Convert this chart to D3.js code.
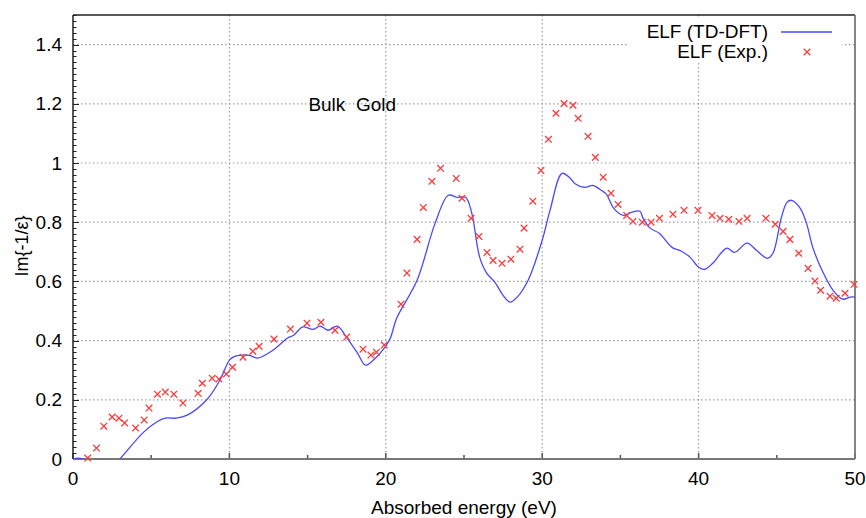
<!DOCTYPE html>
<html>
<head>
<meta charset="utf-8">
<script src="https://cdn.jsdelivr.net/npm/d3@7"></script>
<style>
  body { margin: 0; background: #fff; }
  text { font-family: "Liberation Sans", Arial, sans-serif; fill: #000; }
</style>
</head>
<body>
<div id="chart"></div>
<script>
// ELF (TD-DFT) curve
var tdX = [0, 0.6, 1.6, 3.0, 4.5, 5.35, 5.9, 6.6, 7.3, 8.55, 9.4, 10.0, 10.3, 10.8, 11.3, 11.8, 12.8, 13.7, 14.1, 14.7,
  15.35, 15.8, 16.3, 16.9, 17.5, 18.2, 18.7, 19.2, 19.95, 20.3, 20.7, 22.0, 23.15, 24.0, 24.55, 25.1, 25.5, 26.0,
  26.45, 26.98, 27.5, 27.95, 28.4, 29.1, 30.0, 30.5, 31.27, 31.8, 32.1, 32.7, 33.25, 33.8, 34.1, 34.6, 35.2, 35.7,
  36.25, 36.45, 36.9, 37.5, 38.3, 38.9, 39.45, 40.0, 40.4, 40.9, 41.8, 42.3, 43.1, 43.7, 44.4, 44.75, 45.3, 45.65,
  45.95, 46.5, 46.9, 47.3, 47.95, 48.6, 49.2, 49.7, 50];
var tdY = [0, 0, -0.08, 0, 0.09, 0.125, 0.138, 0.138, 0.148, 0.2, 0.267, 0.334, 0.346, 0.351, 0.35, 0.341, 0.368, 0.408, 0.418, 0.446,
  0.438, 0.449, 0.435, 0.449, 0.41, 0.357, 0.317, 0.334, 0.378, 0.41, 0.476, 0.604, 0.796, 0.891, 0.884, 0.884, 0.83, 0.682,
  0.628, 0.597, 0.553, 0.53, 0.547, 0.604, 0.739, 0.84, 0.965, 0.948, 0.93, 0.918, 0.924, 0.907, 0.895, 0.845, 0.823, 0.833,
  0.837, 0.813, 0.78, 0.762, 0.715, 0.702, 0.682, 0.648, 0.641, 0.661, 0.712, 0.698, 0.729, 0.705, 0.678, 0.695, 0.817, 0.867,
  0.874, 0.847, 0.796, 0.715, 0.631, 0.57, 0.54, 0.547, 0.547];

// ELF (Exp.) points
var expX = [0.94, 1.5, 1.97, 2.5, 2.94, 3.3, 4.0, 4.55, 4.86, 5.4, 5.9, 6.45, 7.03, 8.0, 8.27, 8.9, 9.33, 9.8, 10.2, 10.87,
  11.5, 11.9, 12.85, 13.9, 14.96, 15.85, 16.75, 17.5, 18.54, 19.05, 19.4, 19.9, 20.97, 21.35, 22.0, 22.4, 22.95, 23.5,
  24.5, 24.87, 25.45, 25.96, 26.47, 26.86, 27.43, 28.0, 28.58, 28.84, 29.4, 29.92, 30.4, 30.88, 31.4, 31.97, 32.3, 32.93,
  33.4, 33.9, 34.4, 34.85, 35.4, 35.8, 36.4, 36.96, 37.5, 38.36, 39.07, 39.96, 40.86, 41.37, 41.93, 42.58, 43.1, 44.3,
  44.9, 45.4, 45.84, 46.4, 47.0, 47.44, 47.8, 48.4, 48.8, 49.36, 49.94];
var expY = [0.003, 0.037, 0.111, 0.142, 0.138, 0.122, 0.105, 0.132, 0.172, 0.219, 0.226, 0.219, 0.189, 0.222, 0.256, 0.273, 0.27, 0.287, 0.31, 0.344,
  0.364, 0.381, 0.405, 0.439, 0.459, 0.462, 0.435, 0.412, 0.371, 0.351, 0.361, 0.385, 0.523, 0.628, 0.742, 0.85, 0.938, 0.982,
  0.948, 0.881, 0.813, 0.752, 0.698, 0.671, 0.661, 0.675, 0.709, 0.78, 0.871, 0.975, 1.08, 1.168, 1.201, 1.195, 1.151, 1.09,
  1.019, 0.952, 0.898, 0.86, 0.823, 0.803, 0.8, 0.8, 0.813, 0.827, 0.84, 0.84, 0.823, 0.813, 0.81, 0.803, 0.813, 0.813,
  0.793, 0.769, 0.742, 0.695, 0.644, 0.601, 0.57, 0.55, 0.543, 0.56, 0.59];

var xTicks = [0, 10, 20, 30, 40, 50];
var yTicks = [0, 0.2, 0.4, 0.6, 0.8, 1, 1.2, 1.4];
var seriesNames = ["ELF (TD-DFT)", "ELF (Exp.)"];

var width = 866, height = 518;
var margin = {top: 15, right: 11, bottom: 59, left: 73};
var w = width - margin.left - margin.right;
var h = height - margin.top - margin.bottom;
var fs = 19;

var blue = "#4848ff", red = "#ff3a3a";

var svg = d3.select('#chart').append('svg')
  .attr('width', width)
  .attr('height', height);

var x = d3.scaleLinear().domain([0, 50]).range([0, w]);
var y = d3.scaleLinear().domain([0, 1.5]).range([h, 0]);

var g = svg.append('g').attr('transform', 'translate(' + margin.left + ',' + margin.top + ')');

g.append('clipPath').attr('id', 'clip')
  .append('rect').attr('width', w).attr('height', h);

// grid
g.append('g').selectAll('line').data(yTicks.filter(function(d) { return d > 0; }))
  .join('line')
  .attr('x1', 0).attr('x2', w)
  .attr('y1', function(d) { return y(d); }).attr('y2', function(d) { return y(d); })
  .attr('stroke', '#a0a0a0').attr('stroke-width', 1.2).attr('stroke-dasharray', '1.5,2.5');
g.append('g').selectAll('line').data(xTicks.filter(function(d) { return d > 0 && d < 50; }))
  .join('line')
  .attr('y1', 0).attr('y2', h)
  .attr('x1', function(d) { return x(d); }).attr('x2', function(d) { return x(d); })
  .attr('stroke', '#a0a0a0').attr('stroke-width', 1.2).attr('stroke-dasharray', '1.5,2.5');

// minor / major ticks on the left axis (inward)
var yMinor = d3.range(0, 1.501, 0.02);
g.append('g').selectAll('line').data(yMinor)
  .join('line')
  .attr('x1', 0)
  .attr('x2', function(d) { return Math.abs(d * 5 - Math.round(d * 5)) < 1e-6 ? 6 : 3.5; })
  .attr('y1', function(d) { return Math.round(y(d)) + 0.5; })
  .attr('y2', function(d) { return Math.round(y(d)) + 0.5; })
  .attr('stroke', '#222').attr('stroke-width', 1);

// bottom axis ticks
var xMinor = d3.range(0, 50.1, 5);
g.append('g').selectAll('line').data(xMinor)
  .join('line')
  .attr('x1', function(d) { return x(d); }).attr('x2', function(d) { return x(d); })
  .attr('y1', h)
  .attr('y2', function(d) { return d % 10 === 0 ? h - 6 : h - 4; })
  .attr('stroke', '#555').attr('stroke-width', 1.5);

// frame
g.append('line').attr('x1', 0).attr('x2', w).attr('y1', 0).attr('y2', 0)
  .attr('stroke', '#222').attr('stroke-width', 1.5);
g.append('line').attr('x1', 0).attr('x2', 0).attr('y1', 0).attr('y2', h)
  .attr('stroke', '#222').attr('stroke-width', 1.5);
g.append('line').attr('x1', w).attr('x2', w).attr('y1', 0).attr('y2', h)
  .attr('stroke', '#777').attr('stroke-width', 1.8);
g.append('line').attr('x1', 0).attr('x2', w).attr('y1', h).attr('y2', h)
  .attr('stroke', '#777').attr('stroke-width', 2.2);

// tick labels
g.append('g').selectAll('text').data(yTicks)
  .join('text')
  .attr('x', -11).attr('y', function(d) { return y(d); })
  .attr('dy', '0.35em')
  .attr('text-anchor', 'end')
  .attr('font-size', fs)
  .text(function(d) { return d3.format('~g')(d); });
g.append('g').selectAll('text').data(xTicks)
  .join('text')
  .attr('x', function(d) { return x(d); }).attr('y', h + 26)
  .attr('text-anchor', 'middle')
  .attr('font-size', fs)
  .text(function(d) { return d; });

// axis titles
svg.append('text')
  .attr('transform', 'translate(28,246) rotate(-90)')
  .attr('text-anchor', 'middle')
  .attr('font-size', 18)
  .text('Im{-1/ε}');
svg.append('text')
  .attr('x', 464).attr('y', 514)
  .attr('text-anchor', 'middle')
  .attr('font-size', fs)
  .text('Absorbed energy (eV)');

// annotation
g.append('text')
  .attr('x', x(15.05)).attr('y', y(1.2) + 7)
  .attr('font-size', fs)
  .style('white-space', 'pre')
  .text('Bulk  Gold');

// TD-DFT line
var tdData = tdX.map(function(d, i) { return [d, tdY[i]]; });
var line = d3.line()
  .x(function(d) { return x(d[0]); })
  .y(function(d) { return y(d[1]); })
  .curve(d3.curveCatmullRom.alpha(0.5));
g.append('path')
  .datum(tdData)
  .attr('clip-path', 'url(#clip)')
  .attr('d', line)
  .attr('fill', 'none')
  .attr('stroke', blue)
  .attr('stroke-width', 1.3);

// experimental crosses
var expData = expX.map(function(d, i) { return [d, expY[i]]; });
var cs = 3.3;
g.append('g').selectAll('path').data(expData)
  .join('path')
  .attr('d', function(d) {
    var px = x(d[0]), py = y(d[1]);
    return 'M' + (px - cs) + ',' + (py - cs) + 'L' + (px + cs) + ',' + (py + cs) +
      'M' + (px - cs) + ',' + (py + cs) + 'L' + (px + cs) + ',' + (py - cs);
  })
  .attr('stroke', red)
  .attr('stroke-width', 1.3)
  .attr('fill', 'none');

// legend (opaque box hides the grid behind it)
var leg = svg.append('g');
leg.append('rect').attr('x', 628).attr('y', 17).attr('width', 214).attr('height', 46).attr('fill', '#fff');
leg.append('text').attr('x', 768).attr('y', 38).attr('text-anchor', 'end').attr('font-size', fs).text(seriesNames[0]);
leg.append('text').attr('x', 768).attr('y', 58).attr('text-anchor', 'end').attr('font-size', fs).text(seriesNames[1]);
leg.append('line').attr('x1', 781).attr('x2', 832).attr('y1', 32).attr('y2', 32)
  .attr('stroke', blue).attr('stroke-width', 1.3);
leg.append('path')
  .attr('d', 'M803.7,48.7L810.3,55.3M803.7,55.3L810.3,48.7')
  .attr('stroke', red).attr('stroke-width', 1.3);
</script>
</body>
</html>
